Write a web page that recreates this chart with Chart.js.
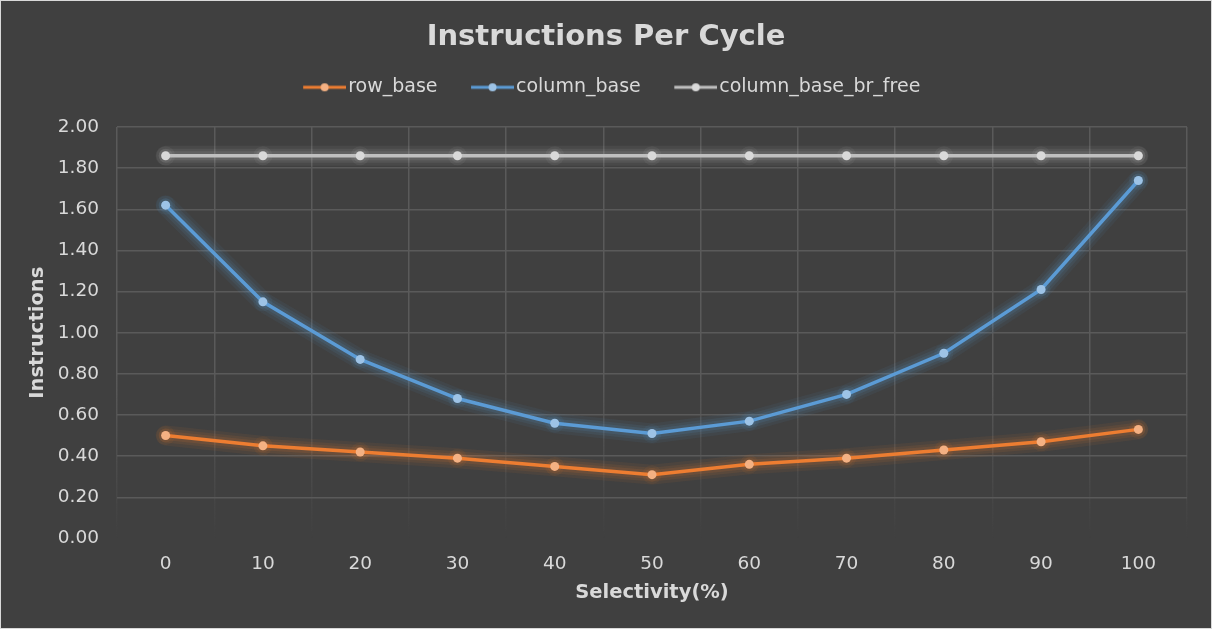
<!DOCTYPE html>
<html>
<head>
<meta charset="utf-8">
<script src="https://cdn.jsdelivr.net/npm/chart.js@4.4.1/dist/chart.umd.min.js"></script>
<style>
  html, body { margin: 0; padding: 0; background: #404040; }
  #box { position: absolute; left: 0; top: 0; width: 1212px; height: 629px; box-sizing: border-box; border: 1px solid #d9d9d9; background: #404040; }
  #chart { display: block; }
</style>
</head>
<body>
<div id="box"><canvas id="chart" width="1210" height="627"></canvas></div>
<script>
// chart data
const selectivity = ['0', '10', '20', '30', '40', '50', '60', '70', '80', '90', '100'];
const rowBase = [0.50, 0.45, 0.42, 0.39, 0.35, 0.31, 0.36, 0.39, 0.43, 0.47, 0.53];
const columnBase = [1.62, 1.15, 0.87, 0.68, 0.56, 0.51, 0.57, 0.70, 0.90, 1.21, 1.74];
const columnBaseBrFree = [1.86, 1.86, 1.86, 1.86, 1.86, 1.86, 1.86, 1.86, 1.86, 1.86, 1.86];

const textColor = '#d9d9d9';
const gridColor = '#5a5a5a';

const series = [
    { label: 'row_base', data: rowBase, line: '#ed7d31', dot: '#f4b183', glow: [237, 125, 49] },
    { label: 'column_base', data: columnBase, line: '#5b9bd5', dot: '#9dc3e6', glow: [91, 155, 213] },
    { label: 'column_base_br_free', data: columnBaseBrFree, line: '#bfbfbf', dot: '#d9d9d9', glow: [200, 200, 200] }
];

// line-with-dot image for the legend; blank on the left so the
// visible sample sits right next to its text
function legendMark(line, dot) {
    const c = document.createElement('canvas');
    c.width = 62; c.height = 10;
    const g = c.getContext('2d');
    g.strokeStyle = line;
    g.lineWidth = 3;
    g.beginPath(); g.moveTo(19, 5); g.lineTo(62, 5); g.stroke();
    g.fillStyle = dot;
    g.beginPath(); g.arc(40.5, 5, 4, 0, Math.PI * 2); g.fill();
    return c;
}

// Excel-like soft glow: a few wide translucent strokes under each series,
// following the points the library has already placed
const glow = {
    id: 'glow',
    beforeDatasetDraw(chart, args) {
        const pts = args.meta.data;
        const ctx = chart.ctx;
        const [r, g, b] = series[args.index].glow;
        const layers = [[20, 0.07], [14, 0.09], [9, 0.12]];
        ctx.save();
        ctx.lineJoin = 'round';
        ctx.lineCap = 'round';
        layers.forEach(([w, a]) => {
            ctx.strokeStyle = `rgba(${r},${g},${b},${a})`;
            ctx.lineWidth = w;
            ctx.beginPath();
            pts.forEach((p, i) => i ? ctx.lineTo(p.x, p.y) : ctx.moveTo(p.x, p.y));
            ctx.stroke();
        });
        [[9.5, 0.07], [7, 0.09]].forEach(([rad, a]) => {
            ctx.fillStyle = `rgba(${r},${g},${b},${a})`;
            pts.forEach(p => {
                ctx.beginPath();
                ctx.arc(p.x, p.y, rad, 0, Math.PI * 2);
                ctx.fill();
            });
        });
        ctx.restore();
    }
};

// vertical grid fades out toward the bottom
function fadeGrid(ctx) {
    const area = ctx.chart.chartArea;
    if (!area) return gridColor;
    const g = ctx.chart.ctx.createLinearGradient(0, area.top, 0, area.bottom);
    g.addColorStop(0, gridColor);
    g.addColorStop(0.6, gridColor);
    g.addColorStop(1, 'rgba(90,90,90,0)');
    return g;
}

new Chart(document.getElementById('chart'), {
    type: 'line',
    data: {
        labels: selectivity,
        datasets: series.map(s => ({
            label: s.label,
            data: s.data,
            borderColor: s.line,
            backgroundColor: s.dot,
            pointBackgroundColor: s.dot,
            pointBorderWidth: 0,
            pointRadius: 4.5,
            borderWidth: 3.5,
            fill: false,
            tension: 0
        }))
    },
    plugins: [glow],
    options: {
        responsive: false,
        animation: false,
        layout: { padding: { top: 14, left: 24, right: 24, bottom: 14 } },
        plugins: {
            title: {
                display: true,
                text: 'Instructions Per Cycle',
                color: textColor,
                font: { family: 'DejaVu Sans', size: 29, weight: 'bold' },
                padding: { top: 5, bottom: 1 }
            },
            // empty spacer between legend and plot
            subtitle: {
                display: true,
                text: '',
                position: 'top',
                weight: 500,
                font: { size: 1 },
                padding: { top: 0, bottom: 19 }
            },
            legend: {
                labels: {
                    color: textColor,
                    font: { family: 'DejaVu Sans', size: 19 },
                    usePointStyle: true,
                    pointStyleWidth: 47,
                    padding: 22,
                    generateLabels(chart) {
                        return series.map((s, i) => ({
                            text: s.label,
                            pointStyle: legendMark(s.line, s.dot),
                            fontColor: textColor,
                            datasetIndex: i,
                            lineWidth: 0,
                            strokeStyle: 'transparent',
                            fillStyle: 'transparent'
                        }));
                    }
                }
            },
            tooltip: { enabled: false }
        },
        scales: {
            x: {
                offset: true,
                grid: { offset: true, color: fadeGrid, lineWidth: 1.5, drawTicks: false },
                border: { display: false },
                ticks: { color: textColor, font: { family: 'DejaVu Sans', size: 18.5 }, padding: 15 },
                title: {
                    display: true,
                    text: 'Selectivity(%)',
                    color: textColor,
                    font: { family: 'DejaVu Sans', size: 19.5, weight: 'bold' },
                    padding: { top: -9, bottom: 9 }
                }
            },
            y: {
                min: 0,
                max: 2,
                grid: {
                    color: ctx => ctx.tick && ctx.tick.value === 0 ? 'rgba(0,0,0,0)' : gridColor,
                    lineWidth: 1.5,
                    drawTicks: false
                },
                border: { display: false },
                ticks: {
                    stepSize: 0.2,
                    color: textColor,
                    font: { family: 'DejaVu Sans', size: 18.5 },
                    padding: 18,
                    callback: v => v.toFixed(2)
                },
                title: {
                    display: true,
                    text: 'Instructions',
                    color: textColor,
                    font: { family: 'DejaVu Sans', size: 19.5, weight: 'bold' },
                    padding: { top: 1, bottom: 4 }
                },
                afterFit(scale) { scale.width = 92; }
            }
        }
    }
});
</script>
</body>
</html>
